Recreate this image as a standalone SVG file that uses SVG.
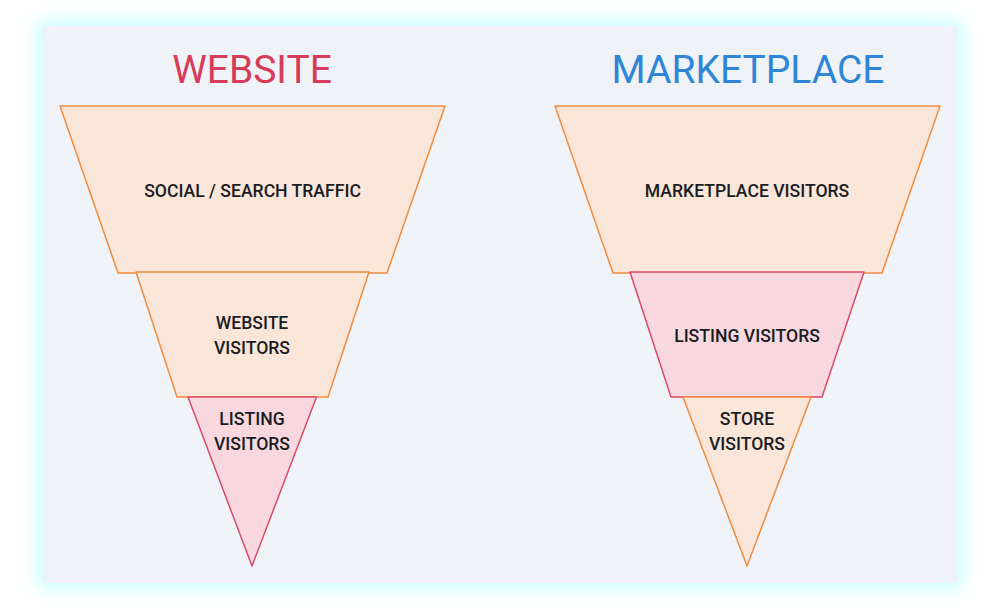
<svg xmlns="http://www.w3.org/2000/svg" width="1000" height="610" viewBox="0 0 1000 610">
<defs>
<filter id="glow" x="-10%" y="-10%" width="120%" height="120%">
<feGaussianBlur stdDeviation="9"/>
</filter>
<style>
.org{fill:#f9e6d8;stroke:#ef8c3f;stroke-width:1.5;stroke-linejoin:round}
.pnk{fill:#f8d8de;stroke:#d94a68;stroke-width:1.5;stroke-linejoin:round}
.lbl{font-family:Roboto,"Liberation Sans",sans-serif;font-size:17.6px;font-weight:500;fill:#1b1d24;text-anchor:middle}
.ttl{font-family:Roboto,"Liberation Sans",sans-serif;font-size:39px;text-anchor:middle}
</style>
</defs>
<rect x="0" y="0" width="1000" height="610" fill="#ffffff"/>
<rect x="38" y="21" width="924" height="567" fill="#c4ffff" filter="url(#glow)"/>
<rect x="43" y="26" width="914" height="557" fill="#eff3f7"/>
<g id="title-website"><text class="ttl" x="252" y="83" fill="#d63c5a">WEBSITE</text></g>
<g id="title-marketplace"><text class="ttl" x="748" y="83" fill="#2f86d6">MARKETPLACE</text></g>
<g id="w1"><polygon class="org" points="60,106 445,106 387,273 118,273"/><text class="lbl" x="252.5" y="196.5">SOCIAL / SEARCH TRAFFIC</text></g>
<g id="w2"><polygon class="org" points="136,272 369,272 328,397 177,397"/><text class="lbl" x="252" y="329">WEBSITE</text><text class="lbl" x="252" y="354">VISITORS</text></g>
<g id="w3"><polygon class="pnk" points="188,397 316.5,397 252,566"/><text class="lbl" x="252" y="425">LISTING</text><text class="lbl" x="252" y="450">VISITORS</text></g>
<g id="m1"><polygon class="org" points="555,106 940,106 882,273 613,273"/><text class="lbl" x="747" y="196.5">MARKETPLACE VISITORS</text></g>
<g id="m2"><polygon class="pnk" points="630,272 864,272 822,397 671,397"/><text class="lbl" x="747" y="341.5">LISTING VISITORS</text></g>
<g id="m3"><polygon class="org" points="683,397 811,397 747,566"/><text class="lbl" x="747" y="425">STORE</text><text class="lbl" x="747" y="450">VISITORS</text></g>
<g id="connectors"></g>
</svg>
